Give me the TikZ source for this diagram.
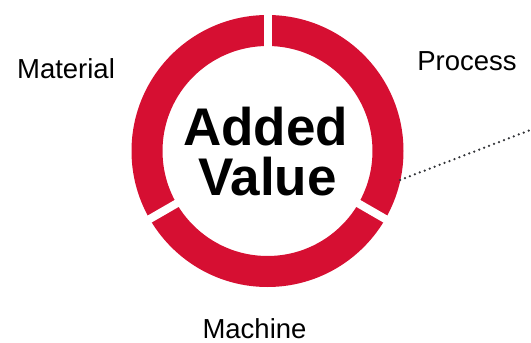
\documentclass[tikz,border=0pt]{standalone}
\usepackage{fontspec}
\setmainfont{Liberation Sans}
\usetikzlibrary{calc}
\definecolor{ringred}{RGB}{214,15,50}
\definecolor{dotgray}{RGB}{50,52,56}
\begin{document}
\begin{tikzpicture}[x=1pt,y=1pt,
  label/.style={font=\fontsize{27.5}{30}\selectfont, anchor=base, inner sep=0pt},
  bigtext/.style={font=\fontsize{53}{50}\selectfont\bfseries, anchor=base, inner sep=0pt},
  gapline/.style={white, line width=8pt},
  dotline/.style={dotgray, line width=2.5pt, line cap=round, dash pattern=on 0pt off 5.3pt}]
\useasboundingbox (0,0) rectangle (531,-343);
\coordinate (c) at (267.5,-151);
% ring
\fill[ringred, even odd rule] (c) circle[radius=136] (c) circle[radius=105];
\foreach \a in {90,210,330}
  \draw[gapline] ($(c)+(\a:100)$) -- ($(c)+(\a:141)$);
% labels
\node[bigtext] (added) at (265.5,-145) {Added};
\node[bigtext] (value) at (267.5,-195.5) {Value};
\node[label] (material) at (66,-78) {Material};
\node[label] (process) at (467,-70) {Process};
\node[label] (machine) at (254.5,-338.5) {Machine};
% dotted connector
\coordinate (dotstart) at (400,-180);
\coordinate (dotend) at (533,-129);
\draw[dotline] (dotstart) -- (dotend);
\end{tikzpicture}
\end{document}
